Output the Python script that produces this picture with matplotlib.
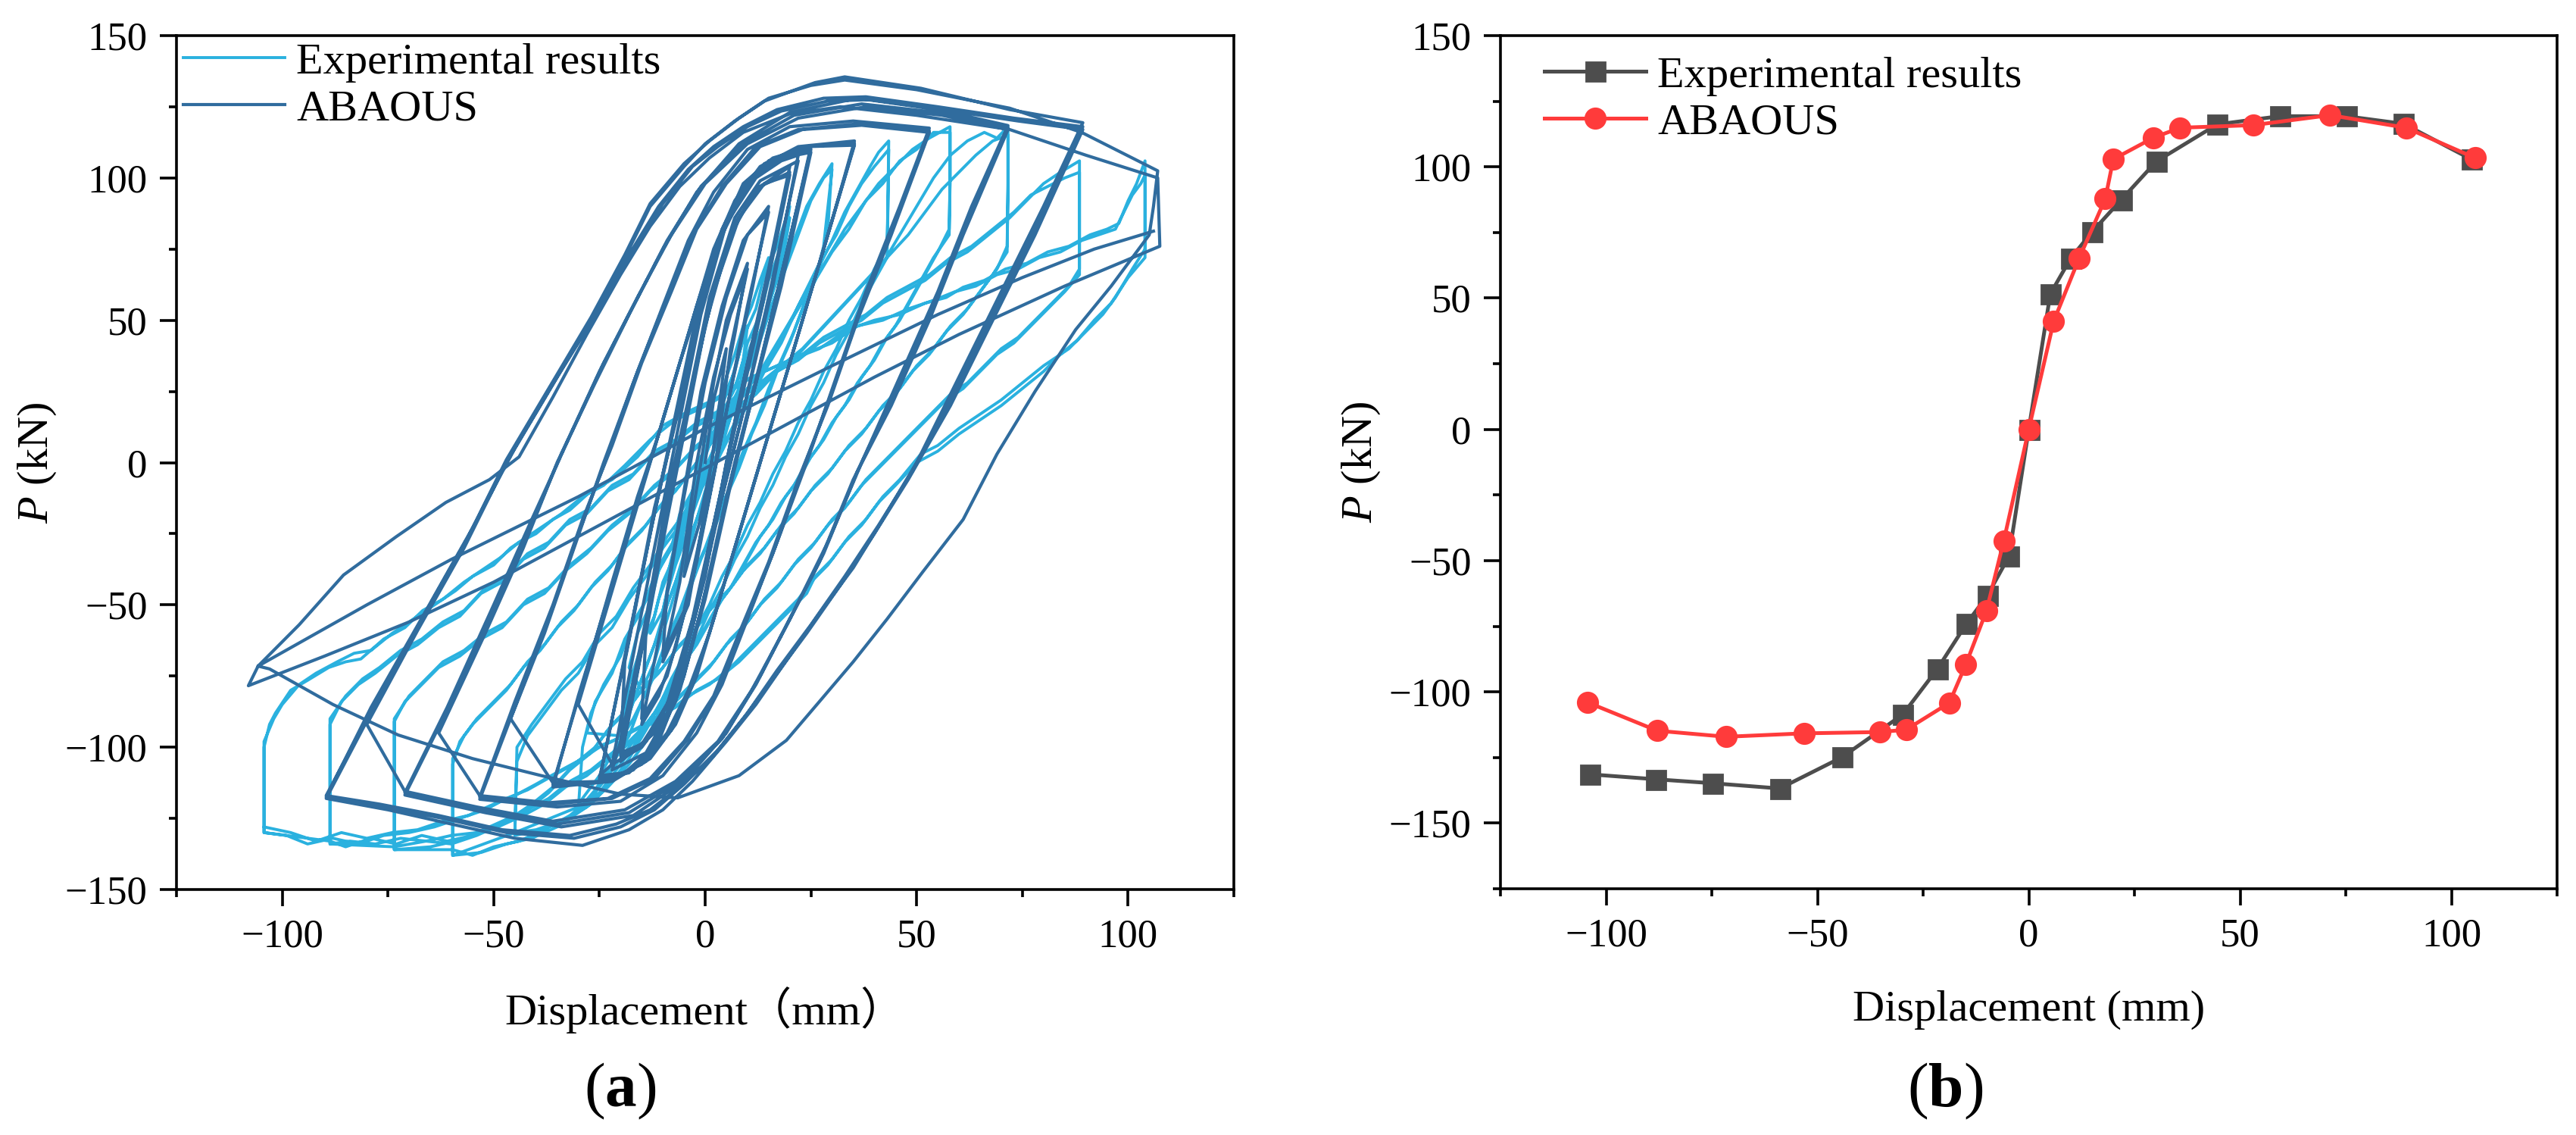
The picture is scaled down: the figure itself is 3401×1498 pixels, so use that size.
import numpy as np
import matplotlib
matplotlib.use("Agg")
from matplotlib import pyplot as plt
from matplotlib.ticker import MultipleLocator

# ---- (a) hysteresis curves (displacement mm, load kN) ----
exp_small = [
    # 10 mm
    (-10,-52),(-8,-38),(-6,-30),(-4,-18),(-2,-10),(0,2),(2,10),(4,20),(6,28),(8,38),(10,48),
    (9,36),(7,26),(5,20),(3,8),(1,0),(-1,-10),(-3,-18),(-5,-28),(-7,-36),(-9,-46),(-10,-52),
    # 15 mm
    (-13,-60),(-11,-48),(-9,-40),(-7,-28),(-5,-22),(-3,-10),(-1,-2),(1,10),(3,18),(5,30),(7,38),(9,48),(11,55),(13,64),(15,72),
    (14,58),(12,46),(10,38),(8,26),(6,20),(4,8),(2,0),(0,-12),(-2,-20),(-4,-32),(-6,-40),(-8,-50),(-10,-60),(-12,-70),(-15,-80),
    # 20 mm
    (-18,-72),(-16,-60),(-13,-50),(-11,-38),(-8,-30),(-6,-18),(-3,-10),(-1,2),(2,10),(4,22),(7,32),(9,44),(12,54),(14,66),(17,76),(20,90),
    (18,72),(16,60),(14,50),(11,38),(9,28),(6,16),(4,6),(1,-6),(-1,-16),(-4,-28),(-6,-38),(-9,-50),(-11,-60),(-14,-72),(-17,-84),(-20,-98),
    (-18,-78),(-15,-64),(-12,-54),(-10,-42),(-7,-32),(-5,-22),(-2,-12),(0,-2),(3,8),(5,20),(8,30),(10,42),(13,52),(15,64),(18,76),(20,86),
    (18,68),(15,56),(13,46),(10,34),(8,24),(5,12),(3,2),(0,-10),(-2,-20),(-5,-32),(-7,-42),(-10,-54),(-12,-64),(-15,-76),(-18,-88),(-20,-96),
    # 30 mm
    (-28,-95),(-26,-84),(-22,-74),(-19,-62),(-15,-52),(-12,-40),(-8,-30),(-5,-18),(-2,-8),(2,4),(5,14),(8,26),(12,38),(15,52),(18,64),(21,78),(24,90),(27,98),(30,105),
    (29,82),(27,68),(24,58),(21,46),(18,36),(15,26),(12,14),(9,4),(6,-8),(3,-18),(0,-30),(-3,-40),(-6,-52),(-9,-62),(-12,-74),(-15,-84),(-18,-96),(-22,-106),(-26,-115),(-30,-122),
    (-29,-100),(-27,-88),(-24,-78),(-20,-68),(-17,-56),(-13,-46),(-10,-34),(-6,-24),(-3,-12),(0,-2),(4,10),(7,20),(10,32),(13,44),(16,56),(19,68),(22,80),(25,92),(28,100),(30,103),
    (28,76),(26,64),(23,54),(20,42),(17,32),(14,20),(11,10),(8,-2),(5,-12),(2,-24),(-1,-34),(-4,-46),(-7,-56),(-10,-68),(-13,-78),(-17,-90),(-21,-100),(-25,-110),(-29,-118),(-30,-121),
]

exp_mid = [
    # 43 mm
    (-45,-130),(-44.5,-105),(-42,-96),(-38,-88),(-34,-80),(-30,-74),(-26,-64),(-22,-58),(-18,-48),(-14,-40),(-10,-30),(-6,-22),(-2,-12),(2,-2),(6,10),(10,20),
    (14,32),(18,42),(22,55),(26,66),(30,78),(33,88),(36,96),(39,104),(41,109),(43.4,113),
    (43.2,90),(43,76),(40,68),(37,58),(34,50),(31,40),(28,32),(25,22),(22,14),(19,4),(16,-4),(13,-14),(10,-22),(7,-32),(4,-40),(1,-50),(-2,-58),(-5,-68),
    (-8,-76),(-11,-86),(-14,-94),(-18,-104),(-22,-112),(-27,-120),(-33,-126),(-39,-129),(-45,-131),
    (-45,-131),(-44.5,-100),(-41,-92),(-37,-84),(-33,-76),(-29,-70),(-25,-60),(-21,-54),(-17,-44),(-13,-36),(-9,-26),(-5,-18),(-1,-8),(3,2),(7,14),(11,24),
    (15,36),(19,46),(23,58),(27,70),(31,80),(34,90),(37,98),(40,104),(43.4,110),
    (43.2,88),(43,72),(40,64),(37,56),(34,46),(31,38),(28,28),(25,20),(22,10),(19,2),(16,-8),(13,-16),(10,-26),(7,-34),(4,-44),(1,-52),(-2,-62),(-5,-70),
    (-8,-80),(-11,-88),(-14,-98),(-18,-106),(-23,-114),(-28,-121),(-34,-126),(-40,-129),(-45,-130),
    # 58 mm
    (-59.7,-138),(-59.7,-106),(-58,-98),(-55,-92),(-51,-86),(-47,-80),(-43,-72),(-39,-66),(-35,-58),(-31,-52),(-27,-44),(-23,-38),(-19,-30),(-15,-24),(-11,-16),
    (-7,-10),(-3,-2),(1,6),(5,14),(9,24),(13,32),(17,42),(21,52),(25,62),(29,72),(33,82),(37,90),(41,98),(45,104),(49,110),(53,114),(57.9,118),
    (57.9,100),(57.7,82),(55,74),(52,66),(49,58),(46,50),(43,44),(40,36),(37,30),(34,22),(31,16),(28,8),(25,2),(22,-6),(19,-12),(16,-20),(13,-26),(10,-34),
    (7,-42),(4,-48),(1,-56),(-2,-64),(-5,-70),(-8,-78),(-11,-86),(-14,-92),(-17,-100),(-21,-108),(-25,-116),(-30,-122),(-35,-128),(-41,-132),(-47,-134),(-53,-137),(-59.7,-138),
    (-59.7,-136),(-59.7,-104),(-57,-96),(-54,-90),(-50,-84),(-46,-78),(-42,-70),(-38,-64),(-34,-56),(-30,-50),(-26,-42),(-22,-36),(-18,-28),(-14,-22),(-10,-14),
    (-6,-8),(-2,0),(2,8),(6,16),(10,26),(14,34),(18,44),(22,54),(26,64),(30,74),(34,82),(38,92),(42,98),(46,106),(50,110),(54,116),(57.9,116),
    (57.9,98),(57.7,80),(54,72),(51,64),(48,56),(45,48),(42,42),(39,34),(36,28),(33,20),(30,14),(27,6),(24,0),(21,-8),(18,-14),(15,-22),(12,-28),(9,-36),
    (6,-44),(3,-50),(0,-58),(-3,-66),(-6,-72),(-9,-80),(-12,-88),(-15,-94),(-19,-102),(-23,-110),(-27,-118),(-32,-124),(-38,-129),(-44,-133),(-50,-135),(-55,-138),(-59.7,-136),
]

exp_large = [
    # 72 mm
    (-73.5,-136),(-73.5,-91),(-71,-84),(-67,-78),(-63,-72),(-58,-68),(-53,-62),(-48,-58),(-43,-50),(-38,-46),(-33,-38),(-28,-32),(-23,-24),(-18,-18),(-13,-10),
    (-8,-4),(-3,4),(2,10),(7,18),(12,24),(17,32),(22,38),(27,46),(32,54),(37,62),(42,70),(46,80),(50,90),(54,100),(58,108),(62,113),(66,116),(69,114),(71.6,118),
    (71.6,98),(71.4,76),(69,68),(66,62),(62,54),(58,48),(54,40),(50,34),(46,26),(42,20),(38,12),(34,6),(30,-2),(26,-8),(22,-16),(18,-22),(14,-30),(10,-36),
    (6,-44),(2,-50),(-2,-58),(-6,-64),(-10,-72),(-14,-78),(-18,-86),(-22,-92),(-26,-100),(-31,-106),(-36,-114),(-41,-120),(-47,-126),(-53,-130),(-59,-133),(-65,-135),(-73.5,-136),
    (-73.5,-135),(-73.5,-90),(-70,-82),(-66,-76),(-62,-70),(-57,-66),(-52,-60),(-47,-56),(-42,-48),(-37,-44),(-32,-36),(-27,-30),(-22,-22),(-17,-16),(-12,-8),
    (-7,-2),(-2,6),(3,12),(8,20),(13,26),(18,34),(23,40),(28,48),(33,56),(38,64),(43,72),(48,80),(52,88),(56,96),(60,102),(64,108),(68,113),(71.6,115),
    (71.6,96),(71.4,74),(68,66),(65,60),(61,52),(57,46),(53,38),(49,32),(45,24),(41,18),(37,10),(33,4),(29,-4),(25,-10),(21,-18),(17,-24),(13,-32),(9,-38),
    (5,-46),(1,-52),(-3,-60),(-7,-66),(-11,-74),(-15,-80),(-19,-88),(-23,-94),(-27,-102),(-32,-108),(-37,-116),(-42,-122),(-48,-127),(-54,-131),(-60,-134),(-66,-133),(-73.5,-135),
    # 88 mm
    (-88.7,-134),(-88.7,-92),(-86,-84),(-82,-78),(-78,-74),(-73,-68),(-68,-64),(-63,-58),(-58,-54),(-53,-46),(-48,-42),(-43,-34),(-38,-30),(-33,-22),(-28,-18),
    (-23,-10),(-18,-6),(-13,2),(-8,6),(-3,12),(2,16),(7,22),(12,26),(17,32),(22,36),(27,42),(32,46),(37,50),(42,56),(47,60),(52,64),(57,70),(62,74),(67,80),
    (72,86),(76,92),(80,98),(84,102),(88.5,106),
    (88.5,98),(88.5,68),(86,62),(82,56),(78,50),(74,44),(70,40),(66,34),(62,28),(58,24),(54,18),(50,12),(46,6),(42,0),(38,-6),(34,-14),(30,-20),(26,-28),
    (22,-34),(18,-42),(14,-48),(10,-56),(6,-62),(2,-70),(-2,-76),(-6,-82),(-10,-88),(-14,-92),(-18,-98),(-22,-102),(-27,-108),(-32,-112),(-37,-118),(-42,-122),
    (-48,-126),(-54,-130),(-60,-131),(-66,-133),(-72,-132),(-78,-134),(-84,-133),(-88.7,-134),
    (-88.7,-133),(-88.7,-90),(-85,-82),(-81,-76),(-77,-72),(-72,-66),(-67,-62),(-62,-56),(-57,-52),(-52,-44),(-47,-40),(-42,-32),(-37,-28),(-32,-20),(-27,-16),
    (-22,-8),(-17,-4),(-12,4),(-7,8),(-2,14),(3,18),(8,24),(13,28),(18,34),(23,38),(28,44),(33,48),(38,52),(43,58),(48,62),(53,66),(58,72),(63,76),(68,82),
    (73,88),(77,94),(81,97),(85,100),(88.5,102),
    (88.5,94),(88.5,66),(85,60),(81,54),(77,48),(73,42),(69,38),(65,32),(61,26),(57,22),(53,16),(49,10),(45,4),(41,-2),(37,-8),(33,-16),(29,-22),(25,-30),
    (21,-36),(17,-44),(13,-50),(9,-58),(5,-64),(1,-72),(-3,-78),(-7,-84),(-11,-90),(-15,-94),(-19,-100),(-23,-104),(-28,-110),(-33,-114),(-38,-120),(-43,-124),
    (-49,-128),(-55,-131),(-61,-133),(-67,-131),(-73,-134),(-79,-132),(-85,-135),(-88.7,-133),
    # 104 mm
    (-104.3,-130),(-104.3,-100),(-103,-92),(-101.6,-88),(-98,-80),(-94,-76.5),(-89,-72),(-85,-70),(-81.4,-69),(-76,-62),(-71,-58),(-66.8,-52),(-62,-48),
    (-57,-42),(-53,-38),(-48.6,-33.6),(-44,-28),(-40,-25),(-36,-20),(-32,-16.7),(-27,-10),(-22,-6),(-16,2),(-10,13),(-4,18),(2,22),(8,28),(14,32),(20,36),
    (27,40),(33.7,46.7),(40,50),(46,52),(52,56),(57,58),(61,61.6),(66,64),(71,68),(76,70),(81,74),(86,76),(91,80),(95,82),(97.8,84),(100,92),(102,98),(104,106),
    (104,98),(104,75),(101,68),(97,58),(94,52),(90,46),(86,40),(80,34),(75,28),(70,22),(65,17),(60,12),(55,6),(51,3),(46,-6),(42,-12),(38,-20),(34,-26),
    (30,-34),(26,-40),(24,-46),(20,-52),(16,-58),(12,-64),(8,-70),(3,-76),(-2,-80),(-7,-86),(-12,-90),(-17,-94),(-22,-98),(-26,-100.6),(-31,-106),(-36,-110),
    (-42,-115),(-47,-118),(-52,-122),(-58,-125),(-64,-128),(-70,-130),(-76,-131),(-82,-134),(-88,-132),(-94,-134),(-99,-131),(-104.3,-130),
    (-104.3,-128),(-104.3,-98),(-102,-90),(-100,-85),(-96,-78),(-92,-74),(-87,-70),(-83,-67),(-79,-66),(-74,-60),(-69,-55),(-64,-50),(-59,-45),(-55,-40),
    (-50,-36),(-46,-30),(-42,-26),(-38,-22),(-34,-18),(-29,-12),(-24,-8),(-19,-1),(-13,8),(-7,15),(-1,19),(5,24),(11,30),(17,34),(23,38),(30,42),(36,48),
    (42,50),(48,54),(54,57),(59,60),(64,62),(69,66),(74,68),(79,72),(84,74),(89,78),(93,80),(97,82),(99,88),(101,94),(103,98),(104,101),
    (104,94),(104,72),(100,65),(96,56),(92,50),(88,43),(84,38),(80,32),(75,26),(70,20),(65,15),(60,10),(55,4),(50,0),(45,-8),(41,-14),(37,-22),(33,-28),
    (29,-36),(25,-42),(22,-48),(18,-54),(14,-60),(10,-66),(6,-72),(1,-78),(-4,-82),(-9,-88),(-14,-92),(-19,-96),(-24,-99),(-29,-104),(-34,-108),(-40,-113),
    (-45,-117),(-50,-120),(-56,-124),(-62,-126),(-68,-129),(-74,-130),(-80,-132),(-86,-130),(-92,-133),(-98,-130),(-104.3,-128),
]

aba_small = [
    (0,0),(2,22),(5,40),(3.5,22),(1.5,0),(-1.5,-22),(-5,-40),
    (-3,-18),(-1,0),(2,28),(5,50),(10,70),(7,45),(4,22),(1.5,0),(-1,-25),(-4,-50),(-10,-70),
    (-6,-42),(-2,0),(2,30),(6,52),(10,68),(6,40),(2.5,0),(-2,-32),(-5,-52),(-10,-68),
    (-9,-45),(-5,-10),(-1,25),(4,55),(9,78),(15,90),(11,60),(6,25),(2,-5),(-2,-35),(-7,-65),(-11,-82),(-15,-92),
    (-10,-55),(-5,-12),(0,28),(5,58),(10,80),(15,88),(10,55),(5,18),(1,-12),(-4,-48),(-9,-75),(-15,-90),
    (-14,-60),(-9,-20),(-5,10),(0,48),(6,80),(12,96),(20,104),(15,68),(10,35),(5,0),(0,-40),(-6,-75),(-12,-95),(-20,-105),
    (-15,-66),(-9,-15),(-4,20),(1,55),(7,84),(13,97),(20,102),(14,60),(8,22),(4,-8),(-2,-50),(-8,-82),(-14,-98),(-20,-103),
    (-14,-58),(-8,-10),(-3,28),(2,60),(8,86),(14,98),(20,101),(15,65),(9,25),(3,-15),(-3,-55),(-9,-85),(-15,-99),(-20,-102),
    (-19,-70),(-13,-25),(-8,10),(-3,45),(3,78),(9,98),(16,107),(25,111),(19,72),(13,35),(7,0),(1,-40),(-5,-75),(-11,-98),(-17,-108),(-25,-112),
    (-19,-68),(-12,-18),(-7,15),(-2,50),(4,82),(10,99),(17,107),(25,110),(18,66),(12,28),(6,-8),(0,-48),(-6,-80),(-12,-100),(-18,-109),(-25,-111),
    (-18,-62),(-12,-16),(-6,20),(-1,55),(5,85),(11,100),(18,107),(25,109),(18,62),(11,22),(5,-12),(-1,-52),(-7,-84),(-13,-101),(-19,-109),(-25,-110),
    (-22,-106),(-16,-60),(-10,-15),(-6,15),(-1,52),(5,84),(12,100),(18,106),(22,108),(16,62),(10,24),(4,-12),(-2,-52),(-8,-86),(-14,-102),(-22,-108),
    (-20,-98),(-14,-55),(-9,-12),(-4,22),(1,58),(7,86),(13,99),(22,106),(15,58),(9,18),(3,-18),(-3,-58),(-9,-88),(-15,-100),(-22,-106),
]

aba_mid = [
    (-30,-85),(-24,-55),(-18,-25),(-13,0),(-8,25),(-3,50),(2,75),(7,92),(13,104),(22,111),(35.3,113),
    (30,85),(24,55),(18,25),(13,0),(8,-25),(3,-50),(-2,-75),(-7,-92),(-13,-104),(-22,-112),(-36,-114),
    (-30,-82),(-23,-48),(-17,-18),(-12,5),(-7,30),(-2,55),(3,78),(8,94),(14,105),(23,111),(35.3,112),
    (29,80),(23,50),(17,20),(12,-5),(7,-30),(2,-55),(-3,-78),(-8,-94),(-14,-105),(-23,-112),(-36,-113),
    (-29,-78),(-22,-42),(-16,-12),(-11,10),(-6,35),(-1,58),(4,80),(9,95),(15,106),(24,111),(35.3,111.5),
    (28,75),(22,45),(16,15),(11,-10),(6,-35),(1,-60),(-4,-80),(-9,-95),(-15,-106),(-24,-112),(-36,-112.5),
    (-46,-90),(-38,-60),(-31,-30),(-24,0),(-17,28),(-10,55),(-4,78),(2,95),(10,110),(20,118),(35,120),(53,117.5),
    (46,90),(38,60),(31,30),(24,0),(17,-28),(10,-55),(4,-78),(-2,-95),(-10,-110),(-20,-119),(-35,-121),(-53.3,-118.3),
    (-45,-86),(-37,-55),(-30,-25),(-23,3),(-16,32),(-9,58),(-3,80),(4,97),(12,111),(22,117),(36,119),(53,116.5),
    (45,85),(37,55),(30,25),(23,-3),(16,-32),(9,-58),(3,-80),(-4,-97),(-12,-111),(-22,-118),(-36,-120),(-53.3,-117.5),
    (-45,-84),(-36,-50),(-29,-20),(-22,6),(-15,35),(-8,60),(-2,82),(5,98),(13,111),(23,117),(37,118.5),(53,116),
    (44,80),(36,50),(29,20),(22,-6),(15,-35),(8,-60),(2,-82),(-5,-98),(-13,-111),(-23,-118),(-37,-119.5),(-53.3,-117),
]

aba_large = [
    (-63,-95),(-52,-60),(-43,-30),(-35,0),(-26,28),(-18,52),(-10,75),(-2,95),(8,112),(20,123),(36,128),(55,124),(71.6,118.4),
    (63,90),(55,60),(46,30),(37,0),(29,-28),(21,-52),(13,-75),(5,-95),(-5,-112),(-17,-124),(-34,-128),(-52,-123),(-71,-116.8),
    (-62,-90),(-51,-55),(-42,-25),(-34,3),(-25,32),(-17,55),(-9,78),(-1,97),(9,112),(21,122),(37,126),(55,123),(71.6,117.5),
    (62,85),(54,55),(45,25),(36,-3),(28,-32),(20,-55),(12,-78),(4,-97),(-6,-112),(-18,-123),(-35,-127),(-53,-122),(-71,-116),
    (-61,-86),(-50,-50),(-41,-20),(-33,6),(-24,35),(-16,58),(-8,80),(0,98),(10,112),(22,121),(38,125),(56,122),(71.6,117),
    (61,80),(53,50),(44,20),(35,-6),(27,-35),(19,-58),(11,-80),(3,-98),(-7,-112),(-19,-122),(-36,-126),(-54,-121),(-71,-115.5),
    (-80,-92),(-68,-59),(-57,-30),(-47,0),(-37,25),(-27,50),(-19,72),(-13,90),(-5,104),(0,112),(7,120),(14,127),(26,133.5),(33,135.5),(51,131.5),(72,124),(89.3,119.4),
    (80,90),(70,60),(60,30),(50,0),(42,-20),(35,-37),(27,-53),(19,-70),(12,-85),(5,-98),(-3,-112),(-10,-122),(-18,-129),(-29,-134.5),(-45,-132),(-60,-127),(-75,-122),(-89.6,-118),
    (-79,-88),(-67,-55),(-56,-26),(-46,3),(-36,28),(-26,52),(-18,73),(-11,90),(-4,103),(2,111),(9,118),(17,124),(28,128),(38,128.5),(55,125),(73,121),(89.3,118),
    (79,85),(69,55),(59,25),(49,-3),(41,-22),(33,-40),(25,-57),(17,-73),(10,-88),(3,-101),(-5,-113),(-12,-122),(-20,-128),(-31,-132),(-47,-130),(-62,-125),(-76,-121),(-89.6,-117.5),
    (-79,-86),(-66,-52),(-55,-23),(-45,5),(-35,30),(-25,54),(-17,75),(-10,91),(-3,104),(3,111),(10,118),(18,123.5),(29,127),(39,127.5),(56,124),(74,120),(89.3,117),
    (78,80),(68,50),(58,20),(48,-6),(40,-25),(32,-43),(24,-60),(16,-76),(9,-90),(2,-103),(-6,-114),(-13,-122),(-21,-127),(-32,-131),(-48,-129),(-63,-124),(-77,-120),(-89.6,-117),
]

aba_final = [
    (-80,-90),(-68,-58),(-57,-29),(-47,1),(-37,26),(-27,51),(-19,73),(-13,91),(-5,105),(1,113),(8,121),(15,128),(25,132.5),(33,134.4),(50,131),(72,124.5),(89,116),(107,102.5),
    (106,90),(105,80),(96,62),(87.6,46.7),(78,25),(69,3),(61,-20),(51.4,-38.5),(43,-55),(35,-70),(27,-84),(19.2,-97.6),(8,-110),(-6.5,-117.8),(-20,-116.5),
    (-38.7,-110),(-55,-104),(-72.6,-95.7),(-88,-85),(-103,-72.5),(-105.7,-71.5),
    (-96,-57),(-85.5,-39.5),(-73,-26),(-61.3,-14),(-51,-6),(-44,2),(-36,23),(-28,45),(-20,66),(-13,83),(-6,97),(1,107),(9,116),(20,122.5),(32,125),(50,122),
    (72,117),(90,108),(107,100),(107.5,76),(85,62),(60,45),(40,30),(20,14),(0,-2),(-25,-22),(-50,-42),(-70,-56),(-90,-68),(-108,-78.4),
    (-105.7,-71.5),(-80,-50),(-60,-34),(-30,-12),(0,12),(30,34),(55,52),(75,65),(92,75),(106,81.3),
]

# ---- (b) skeleton curves ----
skel_exp_x = [-103.9, -88.2, -74.8, -58.9, -44.2, -29.8, -21.6, -14.7, -9.8, -4.7, 0,
              5.1, 9.9, 14.9, 21.9, 30.2, 44.6, 59.4, 75.1, 88.7, 104.7]
skel_exp_y = [-131.4, -133.3, -134.8, -136.8, -124.9, -108.6, -91.2, -73.9, -63.3, -48.4, 0,
              51.6, 65.1, 75.1, 87.5, 102.1, 116.2, 119.3, 119.3, 116.4, 102.9]
skel_aba_x = [-104.4, -87.9, -71.6, -53.2, -35.2, -29.0, -18.8, -14.9, -10.0, -5.9, 0,
              5.9, 11.9, 18.1, 20.0, 29.5, 35.8, 53.1, 71.3, 89.3, 105.6]
skel_aba_y = [-104.0, -114.8, -117.1, -115.8, -115.3, -114.4, -104.2, -89.6, -69.1, -42.4, 0,
              41.2, 65.1, 87.8, 102.9, 111.1, 114.9, 115.9, 119.7, 114.9, 103.4]

plt.rcParams['font.family'] = ['Liberation Serif', 'Noto Sans CJK SC']
plt.rcParams['mathtext.fontset'] = 'custom'
plt.rcParams['mathtext.rm'] = 'Liberation Serif'
plt.rcParams['mathtext.it'] = 'Liberation Serif:italic'
plt.rcParams['mathtext.bf'] = 'Liberation Serif:bold'

W, H, DPI = 3401, 1498, 200
fig = plt.figure(figsize=(W / DPI, H / DPI), dpi=DPI)
ax1 = fig.add_axes([233 / W, 1 - 1174 / H, 1396 / W, 1127 / H])
ax2 = fig.add_axes([1981 / W, 1 - 1173 / H, 1395 / W, 1126 / H])

ex, ey = np.array(exp_small + exp_mid + exp_large).T
bx, by = np.array(aba_small + aba_mid + aba_large + aba_final).T
ax1.plot(ex, ey, color='#2AB1DF', lw=1.4, label='Experimental results')
ax1.plot(bx, by, color='#306C9E', lw=1.5, label='ABAOUS')

ax2.plot(skel_exp_x, skel_exp_y, '-s', color='#4D4D4D', lw=1.8, ms=9, label='Experimental results')
ax2.plot(skel_aba_x, skel_aba_y, '-o', color='#FF3B3B', lw=1.8, ms=9.5, label='ABAOUS')


def style(ax, ylo):
    ax.set_xlim(-125, 125)
    ax.set_ylim(ylo, 150)
    ax.xaxis.set_major_locator(MultipleLocator(50))
    ax.xaxis.set_minor_locator(MultipleLocator(25))
    ax.yaxis.set_major_locator(MultipleLocator(50))
    ax.yaxis.set_minor_locator(MultipleLocator(25))
    ax.tick_params(which='both', direction='out', top=False, right=False, width=1.3, labelsize=19)
    ax.tick_params(which='major', length=7.9)
    ax.tick_params(which='minor', length=3.6)
    ax.tick_params(axis='x', pad=6)
    ax.tick_params(axis='y', pad=6)
    for s in ax.spines.values():
        s.set_linewidth(1.3)
    ax.set_ylabel(r'$\it{P}$ (kN)', fontsize=21, va='center')
    ax.yaxis.set_label_coords(-0.1315, 0.5)


style(ax1, -150)
style(ax2, -175)
ax1.set_xlabel('Displacement（mm）', fontsize=21, va='center')
ax1.xaxis.set_label_coords(0.5, -0.141)
ax2.set_xlabel('Displacement (mm)', fontsize=21, va='center')
ax2.xaxis.set_label_coords(0.5, -0.142)

ax1.legend(loc='upper left', bbox_to_anchor=(0.0064, 0.992), frameon=False, fontsize=21,
           borderpad=0, borderaxespad=0, handlelength=2.3, handletextpad=0.26, labelspacing=0.15)
ax2.legend(loc='upper left', bbox_to_anchor=(0.0416, 0.976), frameon=False, fontsize=21,
           borderpad=0, borderaxespad=0, handlelength=2.3, handletextpad=0.26, labelspacing=0.15,
           numpoints=1)

fig.text(819 / W, 1 - 1440 / H, r'($\mathbf{a}$)', fontsize=30, ha='center', va='center')
fig.text(2568 / W, 1 - 1440 / H, r'($\mathbf{b}$)', fontsize=30, ha='center', va='center')

fig.savefig('out.png', dpi=DPI)
